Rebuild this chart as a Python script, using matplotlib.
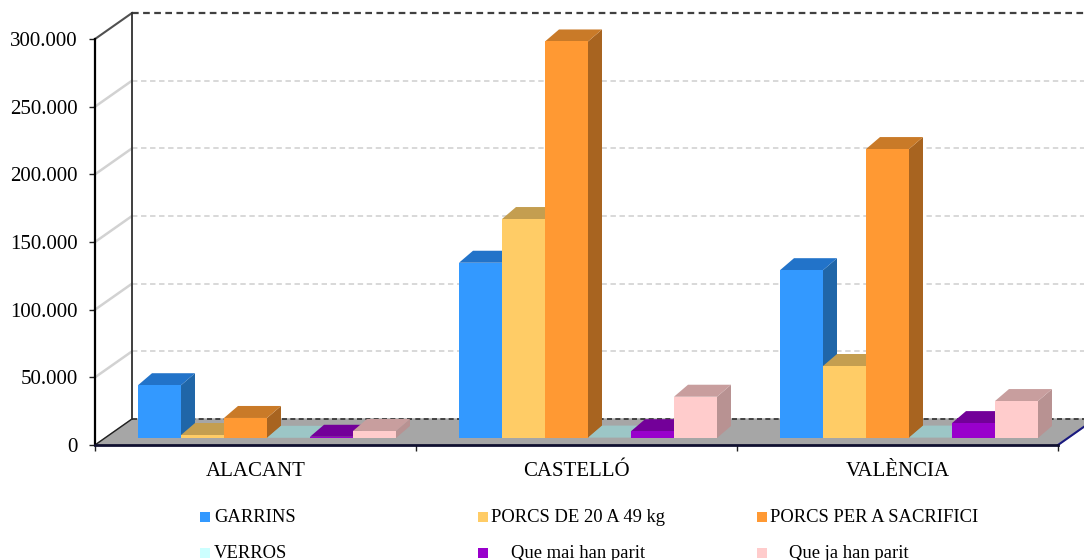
import matplotlib
matplotlib.use("Agg")
import matplotlib.pyplot as plt
import numpy as np

plt.rcParams['font.family'] = ['Liberation Serif', 'DejaVu Serif']

provinces = ['ALACANT', 'CASTELLÓ', 'VALÈNCIA']
series = ['GARRINS', 'PORCS DE 20 A 49 kg', 'PORCS PER A SACRIFICI',
          'VERROS', 'Que mai han parit', 'Que ja han parit']
garrins = [39000, 129500, 124000]
porcs_20_49 = [2200, 161800, 53200]
porcs_sacrifici = [14800, 293000, 213500]
verros = [150, 300, 300]
mai_parit = [900, 5000, 11000]
ja_parit = [5200, 30500, 27300]
yticks = [0, 50000, 100000, 150000, 200000, 250000, 300000]
ylabels = ['0', '50.000', '100.000', '150.000', '200.000', '250.000', '300.000']

colors = ['#3399FF', '#FFCC66', '#FF9933', '#CCFFFF', '#9900CC', '#FFCCCC']
tops = ['#2273C9', '#C49E50', '#C97A28', '#9CC6C6', '#730099', '#C89E9E']
sides = ['#2066A8', '#A88845', '#A86420', '#85A8A8', '#5E007E', '#B89292']

W, H = 1084, 560
fig = plt.figure(figsize=(W / 100, H / 100), dpi=100)
# front plane of the fake 3d box, in pixels 95..1058 / 39..445
ax = fig.add_axes([95 / W, 1 - 445 / H, 963 / W, 406 / H])
ax.set_xlim(0, 3)
ax.set_ylim(0, 300000)
px = 3 / 963
py = 300000 / 406
depth_x, depth_y = 37 * px, 26 * py

ax.patch.set_visible(False)
for s in ax.spines.values():
    s.set_visible(False)

# floor
ax.fill([0, 3, 3 + depth_x, depth_x], [0, 0, depth_y, depth_y],
        color='#A6A6A6', zorder=1, clip_on=False)
ax.plot([3, 3 + depth_x], [0, depth_y], color='#1A1A80', lw=1.5, zorder=2, clip_on=False)

# back wall grid
for v in yticks[1:]:
    if v == 300000:
        c, lw = '#404040', 1.6
        ax.plot([0, depth_x], [v, v + depth_y], color='#505050', lw=1.5, zorder=1, clip_on=False)
    else:
        c, lw = '#D6D6D6', 1.3
        ax.plot([0, depth_x], [v, v + depth_y], color='#D2D2D2', lw=1.8, zorder=1, clip_on=False)
    ax.plot([depth_x, 3 + depth_x], [v + depth_y, v + depth_y], color=c, lw=lw,
            dashes=(3, 2), zorder=1, clip_on=False)
ax.plot([depth_x, 3 + depth_x], [depth_y, depth_y], color='#303030', lw=1.2,
        dashes=(3, 2), zorder=2, clip_on=False)
ax.plot([0, depth_x], [0, depth_y], color='#202020', lw=1, zorder=2, clip_on=False)
ax.plot([depth_x, depth_x], [depth_y, 300000 + depth_y], color='#303030', lw=1.3, zorder=2, clip_on=False)
ax.plot([0, 0], [0, 300000], color='black', lw=1.6, zorder=2, clip_on=False)
ax.plot([0, 3], [0, 0], color='#101030', lw=2, zorder=2, clip_on=False)

# bars
values = [garrins, porcs_20_49, porcs_sacrifici, verros, mai_parit, ja_parit]
bar_w = 43 * px
base = 7 * py
bar_dx, bar_dy = 14 * px, 12 * py
z = 3
for g in range(len(provinces)):
    for i, vals in enumerate(values):
        left = g + bar_w * (i + 1)
        top = base + vals[g]
        right = left + bar_w
        ax.fill([right, right + bar_dx, right + bar_dx, right],
                [base, base + bar_dy, top + bar_dy, top], color=sides[i], lw=0, zorder=z, clip_on=False)
        ax.fill([left, right, right + bar_dx, left + bar_dx],
                [top, top, top + bar_dy, top + bar_dy], color=tops[i], lw=0, zorder=z, clip_on=False)
        ax.bar(left, vals[g], bar_w, bottom=base, align='edge', color=colors[i], lw=0, zorder=z + 0.5, clip_on=False)
        z += 1

ax.set_yticks(yticks)
ax.set_yticklabels(ylabels, fontsize=15)
ax.set_xticks([0, 1, 2, 3])
ax.set_xticklabels([])
ax.tick_params(axis='y', length=4.5, width=1, pad=8, color='#202020')
ax.tick_params(axis='x', length=4.5, width=1, color='#202020')
for i, name in enumerate(provinces):
    ax.annotate(name, (i + 0.5, 0), xytext=(0, -26 * 0.72), textcoords='offset points',
                ha='center', va='center', fontsize=15)

# legend laid out by hand, three columns and two rows
col_x = [200, 478, 757]
text_x = [[214, 491, 770], [214, 511, 789]]
row_y = [517, 553]
for i, name in enumerate(series):
    r, c = i // 3, i % 3
    fig.patches.append(plt.Rectangle((col_x[c] / W, 1 - (row_y[r] + 5) / H), 10 / W, 10 / H,
                                     transform=fig.transFigure, color=colors[i], lw=0))
    fig.text(text_x[r][c] / W, 1 - row_y[r] / H, name, fontsize=13.4, va='center', ha='left')

fig.savefig('out.png', dpi=100)
